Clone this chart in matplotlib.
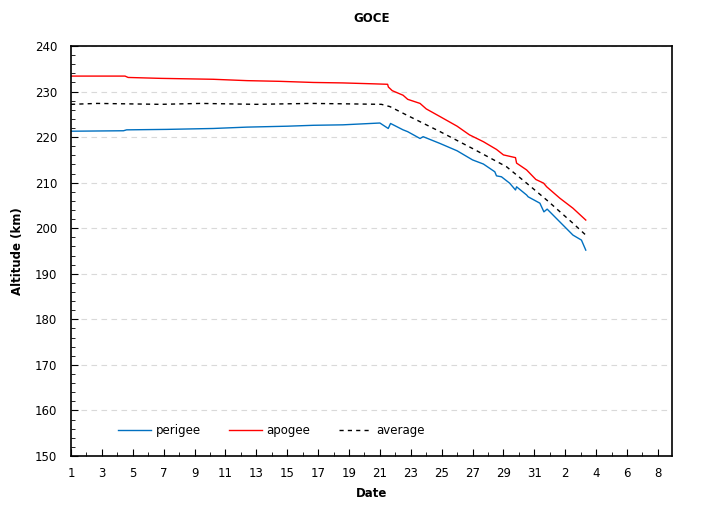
import numpy as np
import matplotlib.pyplot as plt
from matplotlib.ticker import MultipleLocator, FixedLocator

# days counted from 1 Oct (day 32 = 1 Nov)
apo_day = [1.0, 4.5, 4.7, 6.8, 10.2, 12.4, 14.5, 16.7, 18.6, 20.6, 21.5, 21.55, 21.8, 22.5, 22.8,
           23.6, 24.0, 24.9, 26.0, 26.8, 27.7, 28.55, 29.0, 29.78, 29.85, 30.5, 31.1, 31.6, 31.8,
           32.65, 33.5, 34.33]
apo_km = [233.4, 233.4, 233.1, 232.9, 232.7, 232.4, 232.25, 232.0, 231.9, 231.7, 231.6, 231.0, 230.2,
          229.2, 228.3, 227.4, 226.2, 224.5, 222.4, 220.5, 219.0, 217.3, 216.1, 215.5, 214.3, 212.8,
          210.7, 209.9, 209.1, 206.6, 204.4, 201.8]

per_day = [1.0, 4.4, 4.6, 7.2, 10.2, 12.4, 15.0, 16.7, 18.6, 21.0, 21.54, 21.69, 22.5, 22.8, 23.6,
           23.8, 24.9, 26.0, 27.0, 27.7, 28.44, 28.55, 28.87, 29.4, 29.78, 29.85, 30.5, 30.6, 31.36,
           31.62, 31.83, 32.65, 33.5, 34.05, 34.33]
per_km = [221.3, 221.4, 221.6, 221.7, 221.9, 222.2, 222.4, 222.6, 222.7, 223.1, 221.9, 223.0, 221.6,
          221.2, 219.7, 220.1, 218.6, 217.0, 215.0, 214.1, 212.4, 211.5, 211.3, 209.9, 208.4, 209.1,
          207.3, 206.9, 205.5, 203.6, 204.2, 201.4, 198.5, 197.4, 195.2]

avg_day = [1.0, 2.7, 6.8, 9.4, 13.0, 16.5, 19.0, 21.1, 21.65, 22.7, 24.9, 27.0, 29.2, 30.5, 31.8,
           33.5, 34.33]
avg_km = [227.2, 227.4, 227.2, 227.4, 227.2, 227.4, 227.3, 227.2, 226.7, 224.9, 221.2, 217.5, 213.5,
          209.9, 206.2, 201.1, 198.5]

tick_days = list(range(1, 32, 2)) + [33, 35, 37, 39]
tick_labels = [str(d) for d in range(1, 32, 2)] + ['2', '4', '6', '8']

fig = plt.figure(figsize=(7.05, 5.2), dpi=100)
ax = fig.add_axes([0.1007, 0.123, 0.8522, 0.7885])

ax.plot(per_day, per_km, color='#0070C0', lw=1, label='perigee')
ax.plot(apo_day, apo_km, color='#FF0000', lw=1, label='apogee')
ax.plot(avg_day, avg_km, color='black', lw=1, ls=(0, (3, 3)), label='average')

ax.set_xlim(1, 39.9)
ax.set_ylim(150, 240)
ax.xaxis.set_major_locator(FixedLocator(tick_days))
ax.set_xticklabels(tick_labels)
ax.xaxis.set_minor_locator(MultipleLocator(1))
ax.yaxis.set_major_locator(MultipleLocator(10))
ax.yaxis.set_minor_locator(MultipleLocator(2))
ax.tick_params(axis='both', which='both', direction='in', labelsize=8.5, top=False, right=False)
ax.tick_params(axis='x', which='major', length=5, pad=8)
ax.tick_params(axis='x', which='minor', length=3)
ax.tick_params(axis='y', which='major', length=5, pad=10)
ax.tick_params(axis='y', which='minor', length=3)
ax.grid(axis='y', which='major', ls=(0, (5, 4)), color='#d9d9d9', lw=0.8)
ax.set_axisbelow(True)
for s in ax.spines.values():
    s.set_linewidth(1.2)

ax.set_title('GOCE', fontsize=8.5, fontweight='bold', pad=17)
ax.set_xlabel('Date', fontsize=8.5, fontweight='bold', labelpad=5)
ax.set_ylabel('Altitude (km)', fontsize=8.5, fontweight='bold', labelpad=8)
ax.legend(loc='lower left', bbox_to_anchor=(0.06, 0.02), ncol=3, frameon=False, fontsize=8.5,
          handlelength=2.8, columnspacing=2.4, handletextpad=0.4)

fig.savefig('out.png', dpi=100)
